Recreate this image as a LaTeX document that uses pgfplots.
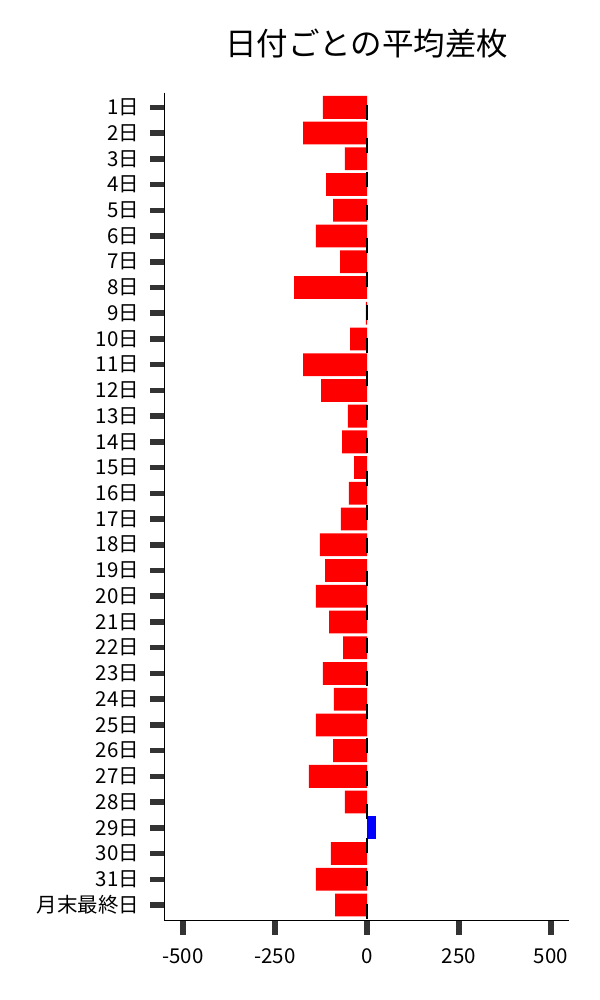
\documentclass[border=0pt]{standalone}
\usepackage{fontspec}
\setmainfont{Noto Sans CJK JP}
\usepackage{pgfplots}
\pgfplotsset{compat=1.18}
\definecolor{tickgray}{HTML}{333333}
\begin{document}
\begin{tikzpicture}
\useasboundingbox (-164.3bp,-79.3bp) rectangle (435.7bp,920.7bp);
\begin{axis}[
  at={(0,0)}, anchor=south west,
  scale only axis,
  width=404.7bp, height=828bp,
  xmin=-551, xmax=549,
  ymin=-0.57, ymax=31.61,
  y dir=reverse,
  axis lines*=left,
  axis line style={black, line width=1.2bp},
  xtick={-500,-250,0,250,500},
  xticklabels={-500,-250,0,250,500},
  ytick={0,...,31},
  yticklabels={1日,2日,3日,4日,5日,6日,7日,8日,9日,10日,11日,12日,13日,14日,15日,16日,17日,18日,19日,20日,21日,22日,23日,24日,25日,26日,27日,28日,29日,30日,31日,月末最終日},
  tick align=outside,
  major tick length=14bp,
  every tick/.style={tickgray, line width=5.5bp, line cap=butt},
  tick label style={font=\fontsize{20.5bp}{24bp}\selectfont},
  yticklabel style={anchor=east, inner sep=0pt, xshift=-11bp},
  xticklabel style={anchor=center, inner sep=0pt, yshift=-21.7bp},
  title={日付ごとの平均差枚},
  title style={font=\fontsize{31.5bp}{36bp}\selectfont, at={(0.5,1)}, anchor=center, yshift=43bp},
  clip=false,
]
\addplot[xbar, bar shift=0pt, bar width=22.8bp, fill=red, draw=none] coordinates {
(-120,0) (-174,1) (-60,2) (-111,3) (-92,4) (-139,5) (-73,6) (-198,7) (-3,8) (-46,9)
(-174,10) (-125,11) (-52,12) (-68,13) (-35,14) (-49,15) (-71,16) (-128,17) (-114,18) (-139,19)
(-103,20) (-65,21) (-120,22) (-90,23) (-139,24) (-92,25) (-158,26) (-60,27) (-98,29) (-139,30) (-87,31)
};
\addplot[xbar, bar shift=0pt, bar width=22.8bp, fill=blue, draw=none] coordinates {
(24,28)
};
\addplot[black, line width=1.5bp, dash pattern=on 15bp off 18.3bp, dash phase=21bp, mark=none] coordinates {(0,-0.57) (0,31.61)};
\end{axis}
\end{tikzpicture}
\end{document}
